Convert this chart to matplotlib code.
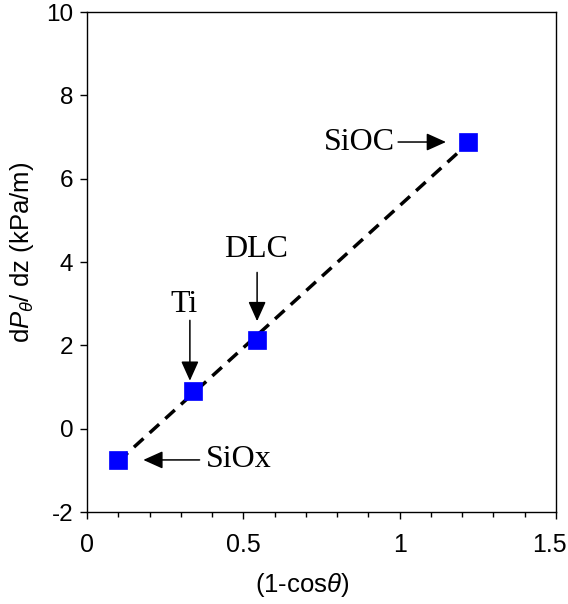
import numpy as np
import matplotlib
matplotlib.use("Agg")
import matplotlib.pyplot as plt
import matplotlib.transforms as mtransforms
from matplotlib.ticker import MultipleLocator

# data
materials = ["SiOx", "Ti", "DLC", "SiOC"]
one_minus_cos = [0.10, 0.34, 0.545, 1.22]
dp_dz = [-0.75, 0.90, 2.13, 6.89]

plt.rcParams['font.family'] = ['Liberation Sans', 'DejaVu Sans']
plt.rcParams['mathtext.fontset'] = 'custom'
plt.rcParams['mathtext.rm'] = 'Liberation Sans'
plt.rcParams['mathtext.it'] = 'Liberation Sans:italic'
plt.rcParams['axes.unicode_minus'] = False

fig = plt.figure(figsize=(5.68, 6.04), dpi=100)
ax = fig.add_axes([0.1532, 0.1523, 0.8257, 0.8278])

x = np.array(one_minus_cos)
y = np.array(dp_dz)

# linear fit, drawn over the span of the data
k, b = np.polyfit(x, y, 1)
xf = np.array([x.min(), x.max()])
ax.plot(xf, k * xf + b, color='black', lw=2.5, ls=(0, (3.7, 2.4)), zorder=2)

ax.plot(x, y, ls='none', marker='s', ms=13, mfc='#0000ff', mec='#0000ff',
        mew=0.5, zorder=3)

# labels with arrows: (text, text pos, arrow tail, arrow tip, ha)
notes = [
    ("SiOC", (0.985, 6.88), (0.995, 6.88), (1.148, 6.88), 'right'),
    ("DLC", (0.54, 4.3), (0.544, 3.75), (0.544, 2.58), 'center'),
    ("Ti", (0.31, 2.98), (0.329, 2.6), (0.329, 1.15), 'center'),
    ("SiOx", (0.38, -0.75), (0.36, -0.75), (0.18, -0.75), 'left'),
]
for name, tpos, tail, tip, ha in notes:
    ax.text(tpos[0], tpos[1], name, family='Liberation Serif', fontsize=23,
            ha=ha, va='center')
    ax.annotate('', xy=tip, xytext=tail,
                arrowprops=dict(arrowstyle='-|>,head_length=0.4,head_width=0.18',
                                mutation_scale=30, lw=1.1, color='black',
                                shrinkA=0, shrinkB=0))

ax.set_xlim(0, 1.5)
ax.set_ylim(-2, 10)
ax.xaxis.set_minor_locator(MultipleLocator(0.1))
ax.yaxis.set_major_locator(MultipleLocator(2))
ax.set_xticks([0, 0.5, 1, 1.5])
ax.set_xticklabels(['0', '0.5', '1', '1.5'])
ax.tick_params(axis='x', which='major', direction='out', length=5, width=1,
               labelsize=18, pad=10, top=False)
ax.tick_params(axis='x', which='minor', direction='out', length=3.5, width=1,
               top=False)
ax.tick_params(axis='y', which='major', direction='out', length=5, width=1,
               labelsize=17.5, pad=5, right=False)
for sp in ax.spines.values():
    sp.set_linewidth(1)

# last x label sits a little left of its tick, as in the original
last = ax.get_xticklabels()[-1]
last.set_transform(last.get_transform() +
                   mtransforms.ScaledTranslation(-4.5 / 72, 0, fig.dpi_scale_trans))

ax.set_xlabel(r'(1-cos$\theta$)', fontsize=18.5)
ax.set_ylabel(r'd$P_\theta$/ dz (kPa/m)', fontsize=18.5)
ax.xaxis.set_label_coords(0.458, -0.146)
ax.yaxis.set_label_coords(-0.138, 0.52)
ax.xaxis.label.set_va('center')
ax.yaxis.label.set_va('center')

fig.savefig('out.png', dpi=100)
